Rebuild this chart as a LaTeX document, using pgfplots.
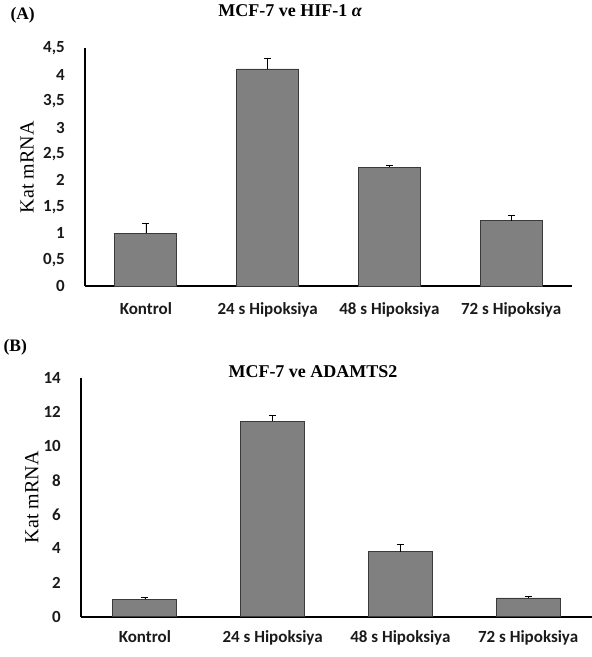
\documentclass[border=0pt]{standalone}
\usepackage{fontspec}
\setmainfont{Liberation Serif}
\newfontfamily\calibri{Carlito}
\usepackage{pgfplots}
\pgfplotsset{compat=1.18}

\definecolor{barfill}{HTML}{808080}
\definecolor{barline}{HTML}{3A3A3A}
\definecolor{ticktext}{HTML}{1A1A1A}

\pgfplotsset{
  katbars/.style={
    scale only axis,
    ybar,
    ymin=0,
    xmin=-0.5, xmax=3.5,
    xtick={0,1,2,3},
    xticklabels={Kontrol, 24 s Hipoksiya, 48 s Hipoksiya, 72 s Hipoksiya},
    axis lines=left,
    axis line style={-},
    x axis line style={line width=1.8pt},
    y axis line style={line width=1.2pt},
    major tick length=0pt,
    tick label style={font=\calibri\bfseries\fontsize{17}{19}\selectfont, inner sep=0pt, text=ticktext},
    xticklabel style={anchor=base, yshift=-29pt},
    yticklabel style={anchor=east, xshift=-20pt},
    ylabel={Kat mRNA},
    ylabel style={font=\fontsize{20}{22}\selectfont, rotate=0, anchor=center},
    clip=false,
  },
  katplot/.style={
    fill=barfill, draw=barline, line width=0.8pt,
    error bars/.cd, y dir=plus, y explicit,
    error bar style={black, line width=0.7pt},
    error mark options={black, line width=0.7pt, mark size=3.5pt, rotate=90},
  },
}

\begin{document}
\begin{tikzpicture}
\path[use as bounding box] (0,0) rectangle (592pt,657pt);

\node[anchor=base west, font=\bfseries\fontsize{17.5}{19}\selectfont] at (7pt,637pt) {(A)};
\node[anchor=base, font=\bfseries\fontsize{18}{20}\selectfont] at (290pt,640pt) {MCF-7 ve HIF-1 {\itshape α}};

\begin{axis}[katbars,
  at={(85pt,371pt)}, anchor=south west,
  width=487pt, height=237.6pt,
  ymax=4.5,
  bar width=62pt,
  ytick={0,0.5,1,1.5,2,2.5,3,3.5,4,4.5},
  yticklabels={0,{0,5},1,{1,5},2,{2,5},3,{3,5},4,{4,5}},
  ylabel style={at={(axis description cs:-0.119,0.5)}},
]
\addplot[katplot] coordinates {
  (0,1.00) +- (0,0.19)
  (1,4.11) +- (0,0.21)
  (2,2.25) +- (0,0.04)
  (3,1.24) +- (0,0.10)
};
\end{axis}

\node[anchor=base west, font=\bfseries\fontsize{17.5}{19}\selectfont] at (0pt,305pt) {(B)};
\node[anchor=base, font=\bfseries\fontsize{18}{20}\selectfont] at (313pt,279pt) {MCF-7 ve ADAMTS2};

\begin{axis}[katbars,
  at={(81pt,40.3pt)}, anchor=south west,
  width=511pt, height=238.8pt,
  ymax=14,
  bar width=64pt,
  ytick={0,2,4,6,8,10,12,14},
  yticklabels={0,2,4,6,8,10,12,14},
  xticklabel style={yshift=3pt},
  ylabel style={at={(axis description cs:-0.096,0.5)}},
]
\addplot[katplot] coordinates {
  (0,1.02) +- (0,0.12)
  (1,11.47) +- (0,0.36)
  (2,3.82) +- (0,0.44)
  (3,1.10) +- (0,0.10)
};
\end{axis}
\end{tikzpicture}
\end{document}
